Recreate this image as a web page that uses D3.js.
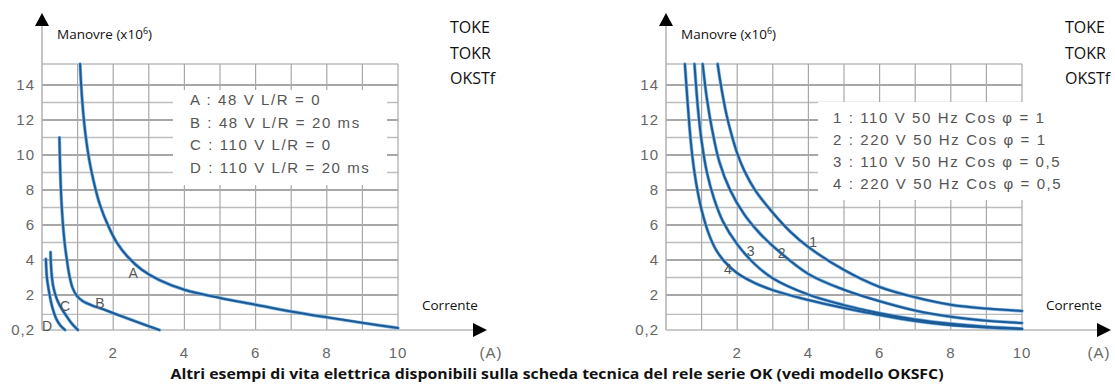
<!DOCTYPE html>
<html><head><meta charset="utf-8">
<script src="https://cdn.jsdelivr.net/npm/d3@7"></script>
<style>
html,body{margin:0;padding:0;background:#fff;}
svg{display:block;}
.tick-l{font-family:"Liberation Sans",Arial,sans-serif;font-size:15px;fill:#666;letter-spacing:1px;}
.leg{font-family:"Liberation Sans",Arial,sans-serif;font-size:15px;fill:#555;letter-spacing:1.6px;}
.ui{font-family:"Open Sans","Noto Sans",sans-serif;fill:#111;}
</style></head><body>
<svg id="c" width="1115" height="390"></svg>
<script>
// ---------- DATA ----------
const xTicks = [2, 4, 6, 8, 10];
const yTicks = [0.2, 2, 4, 6, 8, 10, 12, 14];
const yTickLabels = ["0,2", "2", "4", "6", "8", "10", "12", "14"];
const yGridValues = [1, 2, 3, 4, 5, 6, 7, 8, 9, 10, 11, 12, 13, 14, 15.2];
const xGridValues = [1, 2, 3, 4, 5, 6, 7, 8, 9, 10];

// left chart (DC)
const curveA = [[1.07,15.2],[1.1,14.0],[1.15,12.6],[1.22,11.2],[1.32,9.8],[1.45,8.5],[1.62,7.2],[1.85,6.0],[2.1,5.0],[2.4,4.2],[2.8,3.45],[3.3,2.85],[4,2.3],[5,1.85],[6,1.5],[7,1.15],[8,0.85],[9,0.57],[10,0.3]];
const curveB = [[0.49,11],[0.5,10],[0.52,8.6],[0.55,7.2],[0.59,6.0],[0.64,4.9],[0.7,4.0],[0.77,3.1],[0.86,2.4],[0.98,1.95],[1.15,1.68],[1.4,1.47],[1.7,1.28],[2.1,1.0],[2.5,0.73],[2.9,0.46],[3.3,0.2]];
const curveC = [[0.24,4.45],[0.25,3.8],[0.27,3.2],[0.31,2.55],[0.37,2.05],[0.45,1.65],[0.55,1.3],[0.7,0.88],[0.85,0.5],[1.01,0.2]];
const curveD = [[0.11,4.06],[0.12,3.5],[0.14,2.95],[0.18,2.4],[0.23,1.85],[0.3,1.3],[0.4,0.78],[0.52,0.42],[0.65,0.2]];
const leftNames = ["A", "B", "C", "D"];
const leftLabelPos = [[2.56,3.26],[1.63,1.59],[0.65,1.43],[0.14,0.41]];
const leftLegend = ["A : 48 V L/R = 0", "B : 48 V L/R = 20 ms", "C : 110 V L/R = 0", "D : 110 V L/R = 20 ms"];

// right chart (AC)
const curve1 = [[1.45,15.2],[1.55,13.9],[1.7,12.3],[1.85,11.1],[2.0,10.1],[2.2,9.1],[2.5,8.0],[3,6.7],[3.5,5.6],[4,4.74],[5,3.43],[6,2.46],[7,1.88],[8,1.5],[9,1.3],[10,1.18]];
const curve2 = [[1.03,15.2],[1.15,13.2],[1.3,11.4],[1.5,9.6],[1.8,8.0],[2.2,6.6],[2.6,5.6],[3,4.8],[4,3.2],[5,2.3],[6,1.68],[7,1.2],[8,0.88],[9,0.68],[10,0.56]];
const curve3 = [[0.8,15.2],[0.9,12.6],[1.0,10.8],[1.15,9.0],[1.35,7.5],[1.6,6.2],[2.0,4.9],[2.5,3.75],[3,2.95],[4,2.02],[5,1.48],[6,1.06],[7,0.74],[8,0.52],[9,0.37],[10,0.27]];
const curve4 = [[0.53,15.2],[0.6,13.2],[0.66,11.6],[0.72,10.3],[0.8,9.0],[0.9,7.8],[1.02,6.7],[1.2,5.5],[1.4,4.6],[1.65,3.9],[2.0,3.25],[2.5,2.68],[3,2.28],[4,1.74],[5,1.33],[6,0.97],[7,0.66],[8,0.45],[9,0.33],[10,0.25]];
const rightNames = ["1", "2", "3", "4"];
const rightLabelPos = [[4.13,5.03],[3.25,4.4],[2.38,4.51],[1.74,3.49]];
const rightLegend = ["1 : 110 V 50 Hz Cos \u03C6 = 1", "2 : 220 V 50 Hz Cos \u03C6 = 1", "3 : 110 V 50 Hz Cos \u03C6 = 0,5", "4 : 220 V 50 Hz Cos \u03C6 = 0,5"];

const sideNotes = ["TOKE", "TOKR", "OKSTf"];
const caption = "Altri esempi di vita elettrica disponibili sulla scheda tecnica del rele serie OK (vedi modello OKSFC)";

// ---------- DRAW ----------
const svg = d3.select("#c");
const plotW = 356, base = 330;
const x = d3.scaleLinear().domain([0, 10]).range([0, plotW]);
const y = d3.scaleLinear().domain([0.2, 2, 15.2]).range([base, base - 35, base - 35 - 13.2 * 17.5]);

function panel(ox, curves, names, labelPos, legend, legBox, noteX, aX) {
  const g = svg.append("g").attr("transform", `translate(${ox},0)`);
  g.selectAll(".hg").data(yGridValues).join("line")
    .attr("x1", 0).attr("x2", plotW)
    .attr("y1", d => y(d)).attr("y2", d => y(d))
    .attr("stroke", d => (d % 2 === 0 ? "#8a8a8a" : "#bdbdbd"))
    .attr("stroke-width", d => (d === 15.2 ? 1.5 : 1.3));
  g.selectAll(".vg").data(xGridValues).join("line")
    .attr("x1", d => x(d)).attr("x2", d => x(d))
    .attr("y1", y(15.2)).attr("y2", base)
    .attr("stroke", "#a8a8a8").attr("stroke-width", 1.2);
  g.append("rect").attr("x", legBox[0]).attr("y", legBox[1]).attr("width", legBox[2]).attr("height", legBox[3]).attr("fill", "#fff");
  legend.forEach((t, i) => {
    g.append("text").attr("class", "leg").attr("x", legBox[0] + legBox[4]).attr("y", legBox[1] + legBox[5] + i * legBox[6]).text(t);
  });
  g.append("line").attr("x1", 0).attr("x2", 0).attr("y1", 22).attr("y2", base).attr("stroke", "#b0b0b0").attr("stroke-width", 1.5);
  const ax = x(10) + 75;
  g.append("line").attr("x1", 0).attr("x2", ax).attr("y1", base).attr("y2", base).attr("stroke", "#b8b8b8").attr("stroke-width", 1.5);
  g.append("path").attr("d", "M0,13 L-7,26 L7,26 Z").attr("fill", "#000");
  g.append("path").attr("d", `M${ax + 14},${base} L${ax},${base - 7} L${ax},${base + 7} Z`).attr("fill", "#000");
  g.selectAll(".yt").data(yTicks).join("text").attr("class", "tick-l")
    .attr("x", -7).attr("y", d => y(d) + 5).attr("text-anchor", "end")
    .text((d, i) => yTickLabels[i]);
  g.selectAll(".xt").data(xTicks).join("text").attr("class", "tick-l")
    .attr("x", d => x(d)).attr("y", 358).attr("text-anchor", "middle").text(d => d);
  g.append("text").attr("class", "tick-l").attr("x", ax + aX).attr("y", 358).attr("text-anchor", "middle").text("(A)");
  const t = g.append("text").attr("class", "ui").attr("x", 15).attr("y", 39).style("font-size", "13.5px");
  t.append("tspan").text("Manovre (x10");
  t.append("tspan").text("6").style("font-size", "9px").attr("dy", -5);
  t.append("tspan").text(")").attr("dy", 5);
  g.append("text").attr("class", "ui").attr("x", x(10) + 24).attr("y", 310).style("font-size", "13.5px").text("Corrente");
  const line = d3.line().x(d => x(d[0])).y(d => y(d[1])).curve(d3.curveCatmullRom.alpha(0.5));
  const cg = g.append("g");
  curves.forEach(c => {
    cg.append("path").attr("d", line(c)).attr("fill", "none").attr("stroke", "#7db4e4").attr("stroke-width", 3.4).attr("stroke-linecap", "round");
  });
  curves.forEach(c => {
    cg.append("path").attr("d", line(c)).attr("fill", "none").attr("stroke", "#1c5a95").attr("stroke-width", 2).attr("stroke-linecap", "round");
  });
  g.selectAll(".cl").data(labelPos).join("text").attr("class", "leg")
    .attr("x", d => x(d[0])).attr("y", d => y(d[1]) + 5).attr("text-anchor", "middle")
    .style("letter-spacing", "0px").style("font-size", "14px").text((d, i) => names[i]);
  sideNotes.forEach((s, i) => {
    svg.append("text").attr("class", "ui").attr("x", noteX).attr("y", 33 + i * 25.5).style("font-size", "16px").text(s);
  });
}

panel(42, [curveA, curveB, curveC, curveD], leftNames, leftLabelPos, leftLegend, [131, 90, 214, 95, 17, 15, 22.7], 450, 18);
panel(666, [curve1, curve2, curve3, curve4], rightNames, rightLabelPos, rightLegend, [152, 102, 260, 98, 15, 21, 22], 1065, 2);

svg.append("text").attr("class", "ui").attr("x", 557).attr("y", 379).attr("text-anchor", "middle")
  .style("font-size", "13.5px").style("font-weight", "bold").attr("textLength", 773).attr("lengthAdjust", "spacingAndGlyphs")
  .text(caption);
</script>
</body></html>
